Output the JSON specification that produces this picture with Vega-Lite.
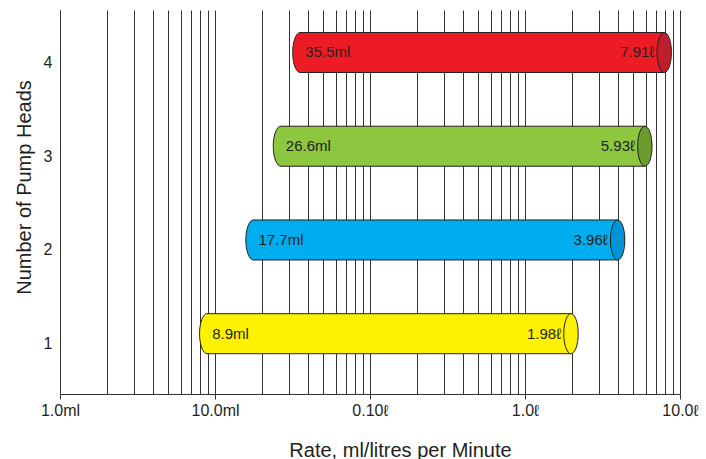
{
  "$schema": "https://vega.github.io/schema/vega-lite/v6.json",
  "width": 620,
  "height": 384,
  "autosize": {"type": "none"},
  "padding": {"left": 60, "top": 10, "right": 26, "bottom": 65},
  "background": "white",
  "config": {
    "view": {"stroke": null},
    "font": "Liberation Sans",
    "axis": {"labelColor": "#231F20", "titleColor": "#231F20", "titleFontWeight": "normal", "labelFontSize": 16, "titleFontSize": 20, "domainColor": "#333333", "domainWidth": 1}
  },
  "data": {
    "values": [
      {"heads": 1, "start": 8.9, "end": 1980, "startLabel": "8.9ml", "endLabel": "1.98ℓ"},
      {"heads": 2, "start": 17.7, "end": 3960, "startLabel": "17.7ml", "endLabel": "3.96ℓ"},
      {"heads": 3, "start": 26.6, "end": 5930, "startLabel": "26.6ml", "endLabel": "5.93ℓ"},
      {"heads": 4, "start": 35.5, "end": 7910, "startLabel": "35.5ml", "endLabel": "7.91ℓ"}
    ]
  },
  "encoding": {
    "y": {
      "field": "heads",
      "type": "quantitative",
      "scale": {"domain": [0.41, 4.4], "nice": false, "zero": false},
      "axis": {"values": [1, 2, 3, 4], "ticks": false, "grid": false, "labelPadding": 8, "labelOffset": 10, "labelFontSize": 16, "title": "Number of Pump Heads", "titleX": -36, "titleY": 177, "titleAngle": -90, "titleBaseline": "middle", "titleAlign": "center", "titleFontSize": 20, "format": "d"}
    },
    "x": {
      "field": "start",
      "type": "quantitative",
      "scale": {"type": "log", "domain": [1, 10000], "nice": false},
      "axis": {
        "values": [1,2,3,4,5,6,7,8,9,10,20,30,40,50,60,70,80,90,100,200,300,400,500,600,700,800,900,1000,2000,3000,4000,5000,6000,7000,8000,9000,10000],
        "grid": true,
        "gridColor": "#333333",
        "gridOpacity": 1,
        "gridWidth": 1,
        "tickColor": "#333333",
        "tickSize": 5,
        "tickOpacity": {"condition": {"test": "indexof([1,10,100,1000,10000], datum.value) >= 0", "value": 1}, "value": 0},
        "labelExpr": "datum.value==1?'1.0ml':datum.value==10?'10.0ml':datum.value==100?'0.10ℓ':datum.value==1000?'1.0ℓ':datum.value==10000?'10.0ℓ':''",
        "labelOverlap": false,
        "labelFlush": false,
        "labelBound": false,
        "labelPadding": 3,
        "labelFontSize": 16,
        "title": "Rate, ml/litres per Minute",
        "titleFontSize": 20,
        "titleX": 340,
        "titleY": 56,
        "titleBaseline": "middle",
        "titleAlign": "center"
      }
    }
  },
  "resolve": {"scale": {"fill": "independent"}},
  "layer": [
    {
      "mark": {"type": "point", "shape": "M0,-1 A0.38,1 0 1,1 0,1 A0.38,1 0 1,1 0,-1 Z", "size": 1600, "filled": true, "opacity": 1, "stroke": "#231F20", "strokeWidth": 1},
      "encoding": {
        "fill": {"field": "heads", "type": "nominal", "scale": {"domain": [1, 2, 3, 4], "range": ["#FFF200", "#00AEEF", "#8DC63F", "#ED1C24"]}, "legend": null}
      }
    },
    {
      "mark": {"type": "bar", "orient": "horizontal", "size": 40, "strokeWidth": 0},
      "encoding": {
        "x2": {"field": "end"},
        "fill": {"field": "heads", "type": "nominal", "scale": {"domain": [1, 2, 3, 4], "range": ["#FFF200", "#00AEEF", "#8DC63F", "#ED1C24"]}, "legend": null}
      }
    },
    {
      "mark": {"type": "rule", "yOffset": -20, "stroke": "#231F20", "strokeWidth": 1},
      "encoding": {"x2": {"field": "end"}}
    },
    {
      "mark": {"type": "rule", "yOffset": 20, "stroke": "#231F20", "strokeWidth": 1},
      "encoding": {"x2": {"field": "end"}}
    },
    {
      "mark": {"type": "point", "shape": "M0,-1 A0.36,1 0 1,1 0,1 A0.36,1 0 1,1 0,-1 Z", "size": 1600, "filled": true, "opacity": 1, "stroke": "#231F20", "strokeWidth": 1},
      "encoding": {
        "x": {"field": "end", "type": "quantitative"},
        "fill": {"field": "heads", "type": "nominal", "scale": {"domain": [1, 2, 3, 4], "range": ["#FFF200", "#0093D5", "#6A9C2E", "#BE1E2D"]}, "legend": null}
      }
    },
    {
      "mark": {"type": "text", "align": "left", "baseline": "middle", "dx": 5, "fontSize": 15, "color": "#231F20"},
      "encoding": {"text": {"field": "startLabel"}}
    },
    {
      "mark": {"type": "text", "align": "right", "baseline": "middle", "dx": -10, "fontSize": 15, "color": "#231F20"},
      "encoding": {
        "x": {"field": "end", "type": "quantitative"},
        "text": {"field": "endLabel"}
      }
    }
  ]
}
